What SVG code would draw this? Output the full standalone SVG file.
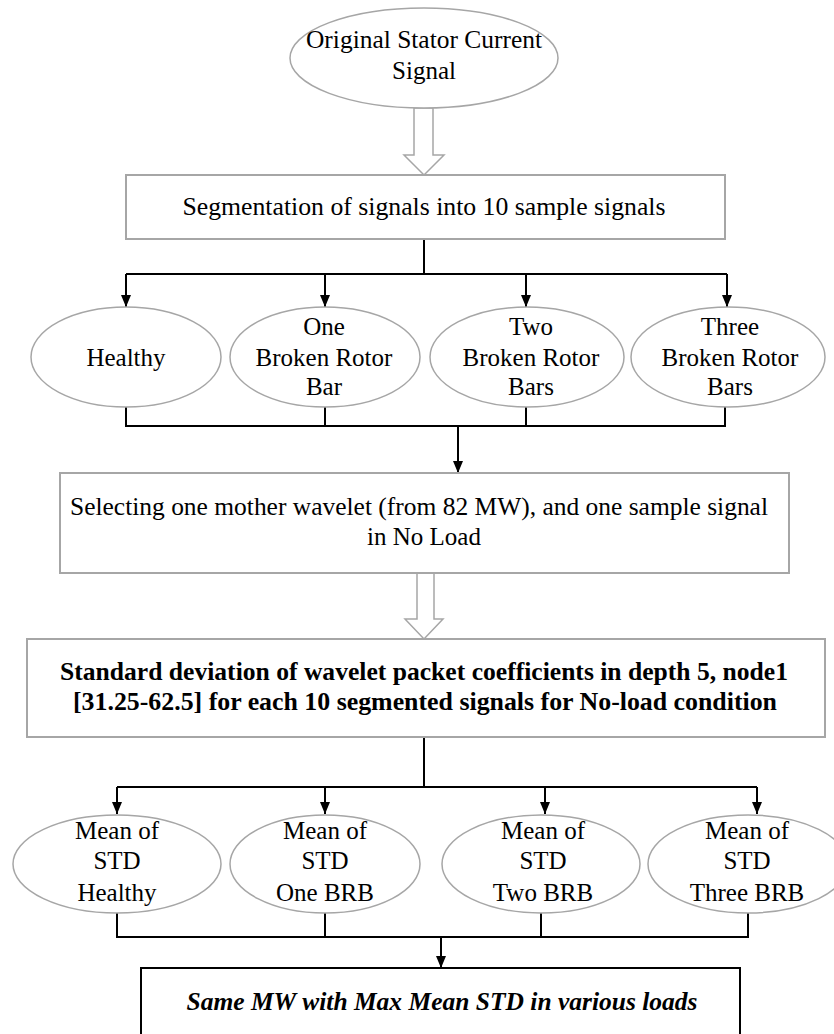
<svg xmlns="http://www.w3.org/2000/svg" width="834" height="1034" viewBox="0 0 834 1034">
<style>
.bg{fill:#ffffff}
.ell{fill:#ffffff;stroke:#a6a6a6;stroke-width:1.5}
.box{fill:#ffffff;stroke:#a6a6a6;stroke-width:2}
.boxk{fill:#ffffff;stroke:#000000;stroke-width:2}
.hollow{fill:#ffffff;stroke:#a6a6a6;stroke-width:1.5}
.con{fill:none;stroke:#000000;stroke-width:2}
.t{font-family:"Liberation Serif","Times New Roman",serif;font-size:25px;fill:#000000;text-anchor:middle}
.tb{font-family:"Liberation Serif","Times New Roman",serif;font-size:25px;font-weight:bold;fill:#000000;text-anchor:middle}
.tbi{font-family:"Liberation Serif","Times New Roman",serif;font-size:25px;font-weight:bold;font-style:italic;fill:#000000;text-anchor:middle}
</style>
<defs>
<marker id="ah" markerUnits="userSpaceOnUse" markerWidth="12" markerHeight="10" refX="12" refY="5" orient="auto" viewBox="0 0 12 10">
<path d="M0,0 L12,5 L0,10 Z" fill="#000000"/>
</marker>
</defs>
<rect class="bg" x="0" y="0" width="834" height="1034"/>

<g id="connectors">
<polygon class="hollow" points="414,108 433,108 433,155 444,155 424,175 404,155 414,155 414,108"/>
<path class="con" d="M424,239 V274 M126,274 H727"/>
<path class="con" d="M126,274 V307" marker-end="url(#ah)"/>
<path class="con" d="M325,274 V307" marker-end="url(#ah)"/>
<path class="con" d="M526,274 V307" marker-end="url(#ah)"/>
<path class="con" d="M727,274 V307" marker-end="url(#ah)"/>
<path class="con" d="M126,407 V426 H725 V407 M325,407 V426 M526,407 V426"/>
<path class="con" d="M458,426 V473" marker-end="url(#ah)"/>
<polygon class="hollow" points="417,573 434,573 434,619 443,619 424,639 405,619 417,619 417,573"/>
<path class="con" d="M424,737 V787 M117,787 H757"/>
<path class="con" d="M117,787 V814" marker-end="url(#ah)"/>
<path class="con" d="M325,787 V814" marker-end="url(#ah)"/>
<path class="con" d="M545,787 V814" marker-end="url(#ah)"/>
<path class="con" d="M757,787 V814" marker-end="url(#ah)"/>
<path class="con" d="M117,913 V937 H748 V913 M325,913 V937 M541,913 V937"/>
<path class="con" d="M441,937 V968" marker-end="url(#ah)"/>
</g>

<g id="n-original">
<ellipse class="ell" cx="424" cy="58" rx="134" ry="50"/>
<text class="t" x="424" y="48" textLength="236" lengthAdjust="spacingAndGlyphs">Original Stator Current</text>
<text class="t" x="424" y="79">Signal</text>
</g>

<g id="n-segmentation">
<rect class="box" x="126" y="175" width="599" height="64"/>
<text class="t" x="424" y="215" textLength="483" lengthAdjust="spacingAndGlyphs">Segmentation of signals into 10 sample signals</text>
</g>

<g id="n-healthy">
<ellipse class="ell" cx="126" cy="357" rx="95" ry="50"/>
<text class="t" x="126" y="366">Healthy</text>
</g>
<g id="n-one">
<ellipse class="ell" cx="325" cy="357" rx="95" ry="50"/>
<text class="t" x="324" y="335">One</text>
<text class="t" x="324" y="366">Broken Rotor</text>
<text class="t" x="324" y="395">Bar</text>
</g>
<g id="n-two">
<ellipse class="ell" cx="527" cy="357" rx="97" ry="50"/>
<text class="t" x="531" y="335">Two</text>
<text class="t" x="531" y="366">Broken Rotor</text>
<text class="t" x="531" y="395">Bars</text>
</g>
<g id="n-three">
<ellipse class="ell" cx="728" cy="357" rx="97" ry="50"/>
<text class="t" x="730" y="335">Three</text>
<text class="t" x="730" y="366">Broken Rotor</text>
<text class="t" x="730" y="395">Bars</text>
</g>

<g id="n-selecting">
<rect class="box" x="60" y="473" width="729" height="100"/>
<text class="t" x="419" y="515" textLength="698" lengthAdjust="spacingAndGlyphs">Selecting one mother wavelet (from 82 MW), and one sample signal</text>
<text class="t" x="424" y="545">in No Load</text>
</g>

<g id="n-std">
<rect class="box" x="27" y="639" width="798" height="98"/>
<text class="tb" x="424" y="680" textLength="728" lengthAdjust="spacingAndGlyphs">Standard deviation of wavelet packet coefficients in depth 5, node1</text>
<text class="tb" x="425" y="710" textLength="704" lengthAdjust="spacingAndGlyphs">[31.25-62.5] for each 10 segmented signals for No-load condition</text>
</g>

<g id="n-mean-healthy">
<ellipse class="ell" cx="117" cy="864" rx="104" ry="49"/>
<text class="t" x="117" y="839">Mean of</text>
<text class="t" x="117" y="869">STD</text>
<text class="t" x="117" y="901">Healthy</text>
</g>
<g id="n-mean-one">
<ellipse class="ell" cx="325" cy="864" rx="95" ry="49"/>
<text class="t" x="325" y="839">Mean of</text>
<text class="t" x="325" y="869">STD</text>
<text class="t" x="325" y="901">One BRB</text>
</g>
<g id="n-mean-two">
<ellipse class="ell" cx="541" cy="864" rx="99" ry="49"/>
<text class="t" x="543" y="839">Mean of</text>
<text class="t" x="543" y="869">STD</text>
<text class="t" x="543" y="901">Two BRB</text>
</g>
<g id="n-mean-three">
<ellipse class="ell" cx="748" cy="864" rx="100" ry="49"/>
<text class="t" x="747" y="839">Mean of</text>
<text class="t" x="747" y="869">STD</text>
<text class="t" x="747" y="901">Three BRB</text>
</g>

<g id="n-final">
<rect class="boxk" x="141" y="968" width="599" height="80"/>
<text class="tbi" x="442" y="1010" textLength="511" lengthAdjust="spacingAndGlyphs">Same MW with Max Mean STD in various loads</text>
</g>
</svg>
